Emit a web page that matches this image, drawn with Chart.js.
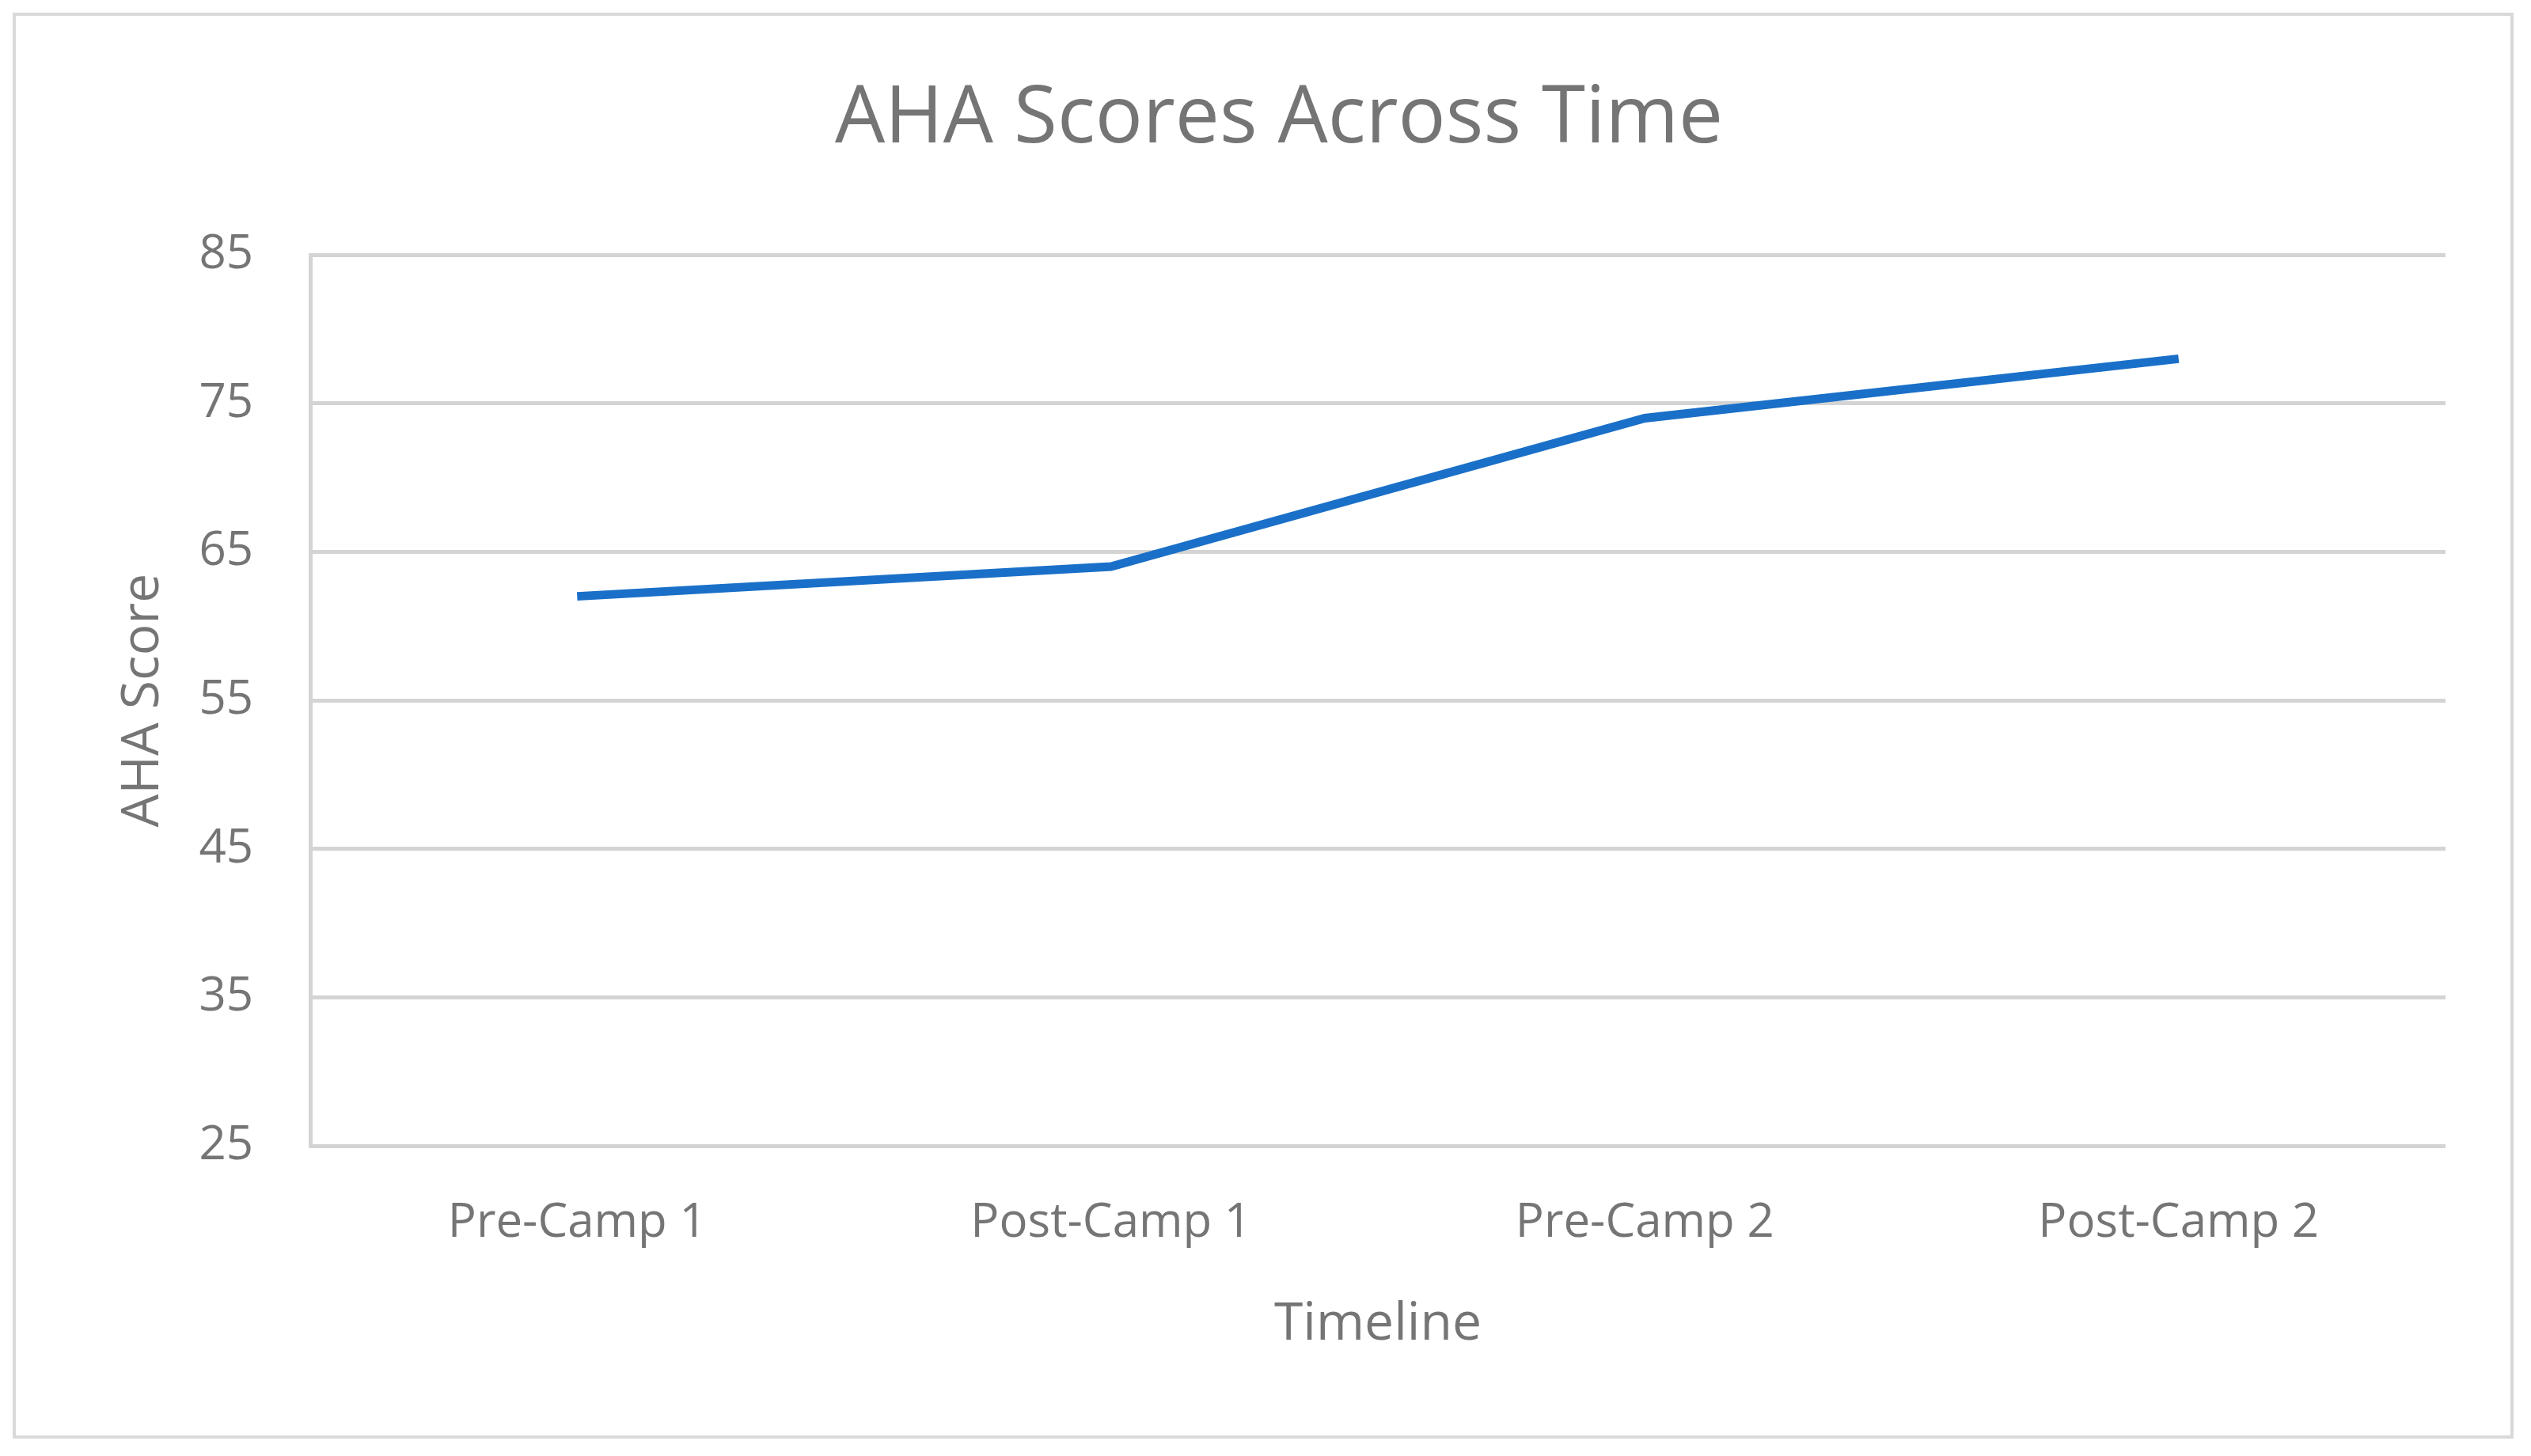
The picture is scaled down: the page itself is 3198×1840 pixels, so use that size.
<!DOCTYPE html>
<html>
<head>
<meta charset="utf-8">
<script src="https://cdn.jsdelivr.net/npm/chart.js@4"></script>
<style>
  html, body { margin: 0; padding: 0; background: #fff; }
  #frame {
    position: absolute; left: 16px; top: 16px;
    width: 3160px; height: 1802px;
    border: 4px solid #d9d9d9; box-sizing: border-box;
  }
  #wrap { position: absolute; left: 0; top: 0; width: 3198px; height: 1840px; }
</style>
</head>
<body>
<div id="frame"></div>
<div id="wrap"><canvas id="chart"></canvas></div>
<script>
/* data */
const categories = ['Pre-Camp 1', 'Post-Camp 1', 'Pre-Camp 2', 'Post-Camp 2'];
const ahaScores  = [62, 64, 74, 78];
const yMin = 25, yMax = 85, yStep = 10;

const TEXT = '#757575';
const GRID = '#d4d4d4';
const FONT = "'Open Sans', sans-serif";

new Chart(document.getElementById('chart'), {
  type: 'line',
  data: {
    labels: categories,
    datasets: [{
      label: 'AHA Score',
      data: ahaScores,
      borderColor: '#1a70c8',
      borderWidth: 11,
      pointRadius: 0,
      tension: 0,
      fill: false
    }]
  },
  options: {
    responsive: true,
    maintainAspectRatio: false,
    animation: false,
    layout: { padding: { left: 142, right: 108, top: 0, bottom: 126 } },
    plugins: {
      legend: { display: false },
      tooltip: { enabled: false },
      title: {
        display: true,
        text: 'AHA Scores Across Time',
        color: TEXT,
        font: { family: FONT, size: 100, weight: 'normal', lineHeight: 1.2 },
        padding: { top: 92, bottom: 110 }
      }
    },
    scales: {
      x: {
        offset: true,
        grid: { display: false, drawTicks: false },
        border: { display: false },
        ticks: { color: TEXT, font: { family: FONT, size: 60 }, padding: 62 },
        title: {
          display: true, text: 'Timeline', color: TEXT,
          font: { family: FONT, size: 66 }, padding: { top: 40, bottom: 0 }
        },
        afterFit: s => { s.height = 266; }
      },
      y: {
        min: yMin, max: yMax,
        grid: { color: GRID, lineWidth: 5, drawTicks: false },
        border: { display: true, color: GRID, width: 5 },
        ticks: { stepSize: yStep, color: TEXT, font: { family: FONT, size: 60 }, padding: 72 },
        title: {
          display: true, text: 'AHA Score', color: TEXT,
          font: { family: FONT, size: 66 }, padding: { top: 0, bottom: 40 }
        },
        afterFit: s => { s.width = 250; }
      }
    }
  }
});
</script>
</body>
</html>
